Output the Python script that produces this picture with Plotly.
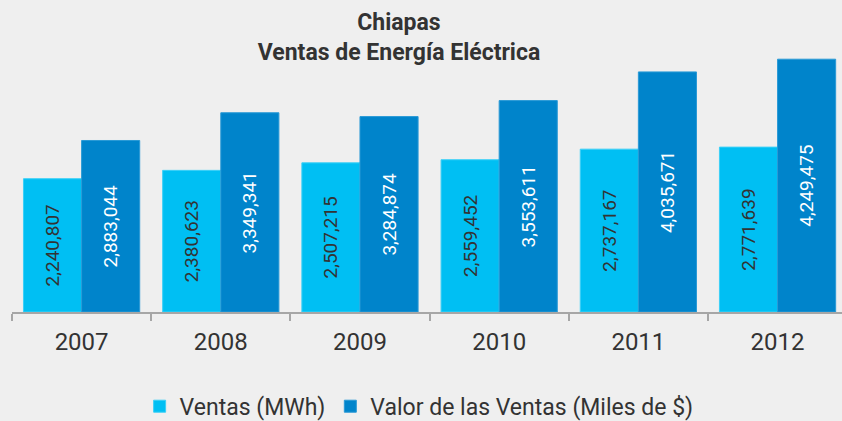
import plotly.graph_objects as go

years = ['2007', '2008', '2009', '2010', '2011', '2012']
ventas_mwh = [2240807, 2380623, 2507215, 2559452, 2737167, 2771639]
valor_ventas = [2883044, 3349341, 3284874, 3553611, 4035671, 4249475]

font = 'Roboto, sans-serif'

fig = go.Figure()
fig.add_trace(go.Bar(x=years, y=ventas_mwh, name='Ventas (MWh)',
                     marker=dict(color='#00bff3', line=dict(width=1, color='#3cd0f7')),
                     texttemplate='%{y:,}', textposition='inside', textangle=-90,
                     insidetextanchor='middle',
                     insidetextfont=dict(family=font, size=19, color='#333333')))
fig.add_trace(go.Bar(x=years, y=valor_ventas, name='Valor de las Ventas (Miles de $)',
                     marker=dict(color='#0084cb', line=dict(width=1, color='#2a9ad6')),
                     texttemplate='%{y:,}', textposition='inside', textangle=-90,
                     insidetextanchor='middle',
                     insidetextfont=dict(family=font, size=19, color='white')))

fig.update_layout(
    width=842, height=421,
    paper_bgcolor='#efefef', plot_bgcolor='#efefef',
    margin=dict(l=12, r=0, t=55, b=109),
    barmode='group', bargap=0.165, bargroupgap=0,
    title=dict(text='<b>Chiapas<br>Ventas de Energía Eléctrica</b>',
               x=399/842, xanchor='center', y=0.928, yanchor='top',
               font=dict(family=font, size=23, color='#333333')),
    legend=dict(orientation='h', x=0.4905, xanchor='center', yref='container', y=0.035,
                yanchor='middle', font=dict(family=font, size=23, color='#333333'),
                itemwidth=30),
    xaxis=dict(type='category', range=[-0.5, 5.463], tickson='boundaries',
               ticks='outside', ticklen=7, tickwidth=2, tickcolor='#a6a6a6',
               showline=True, linecolor='#a6a6a6', linewidth=2,
               ticklabelstandoff=7,
               tickfont=dict(family=font, size=24, color='#333333')),
    yaxis=dict(range=[0, 4320000], showgrid=False, showticklabels=False,
               zeroline=False, showline=False),
)

fig.write_html('out.html', config={'displayModeBar': False},
               post_script="document.body.style.margin='0';document.body.style.overflow='hidden';")
